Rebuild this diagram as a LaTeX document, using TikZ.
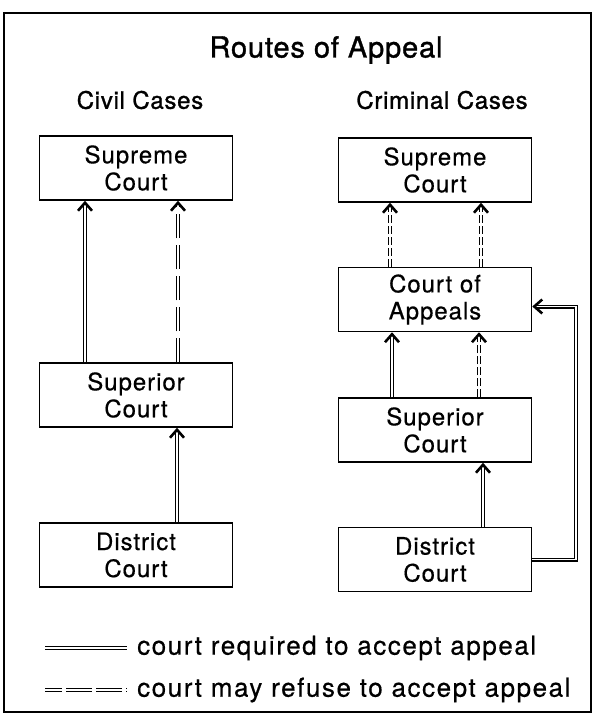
\documentclass[tikz,border=0pt]{standalone}
\usepackage{fontspec}
\setmainfont{TeX Gyre Heros}
\newfontfamily\courtfont{TeX Gyre Heros}[LetterSpace=4,FakeBold=0.5]
\newfontfamily\legendfont{TeX Gyre Heros}[LetterSpace=6,FakeBold=0.5]
\newfontfamily\headfont{TeX Gyre Heros}[LetterSpace=3,FakeBold=1.2]
\usetikzlibrary{arrows.meta,calc}
\begin{document}
\begin{tikzpicture}[x=1pt,y=-1pt,
  court/.style={draw,line width=1.5pt,minimum width=193pt,minimum height=64pt,
    align=center,inner sep=0pt,font=\courtfont\fontsize{24}{27}\selectfont},
  heading/.style={font=\headfont\fontsize{24}{27}\selectfont},
  pipe/.style={draw,line width=1.1pt,double,double distance=1.8pt},
  req/.style={pipe,-{Straight Barb[length=8pt,width=14pt,line width=2.6pt]}},
  mayA/.style={req,dash pattern=on 24pt off 7pt},
  mayB/.style={req,dash pattern=on 8pt off 3pt},
  legtext/.style={anchor=west,inner sep=0pt,font=\legendfont\fontsize{26}{28}\selectfont}]
\useasboundingbox (0,0) rectangle (596,715);
\draw[line width=1.5pt] (4,13) rectangle (591,712);

\node[font=\headfont\fontsize{29}{32}\selectfont] (title) at (326,50) {Routes of Appeal};
\node[heading] (civil) at (140,100) {Civil Cases};
\node[heading] (crim) at (442,100) {Criminal Cases};

% civil cases
\node[court] (vsc) at (136,168) {Supreme\\Court};
\node[court] (vsu) at (136,395) {Superior\\Court};
\node[court] (vdc) at (136,555) {District\\Court};
\draw[req] ([xshift=-51pt]vsu.north) -- ([xshift=-51pt]vsc.south);
\draw[mayA] ([xshift=42pt]vsu.north) -- ([xshift=42pt]vsc.south);
\draw[req] ([xshift=41pt]vdc.north) -- ([xshift=41pt]vsu.south);

% criminal cases
\node[court] (rsc) at (435,170) {Supreme\\Court};
\node[court] (rca) at (435,299.5) {Court of\\Appeals};
\node[court] (rsu) at (435,430) {Superior\\Court};
\node[court] (rdc) at (435,559.5) {District\\Court};
\draw[mayB] ([xshift=-45pt]rca.north) -- ([xshift=-45pt]rsc.south);
\draw[mayB] ([xshift=46pt]rca.north) -- ([xshift=46pt]rsc.south);
\draw[req] ([xshift=-43pt]rsu.north) -- ([xshift=-43pt]rca.south);
\draw[mayB] ([xshift=44pt]rsu.north) -- ([xshift=44pt]rca.south);
\draw[req] ([xshift=48pt]rdc.north) -- ([xshift=48pt]rsu.south);
\coordinate (bypass) at (576,0);
\draw[req] (rdc.east) -- (rdc.east -| bypass) |- ([yshift=-7pt]rca.east);

% legend
\coordinate (l1a) at (45,648);
\coordinate (l1b) at (127,648);
\coordinate (l2a) at (45,690);
\coordinate (l2b) at (127,690);
\draw[pipe] (l1a) -- (l1b);
\draw[pipe,dash pattern=on 17pt off 4pt on 26pt off 4pt on 26pt off 4pt on 8pt off 100pt] (l2a) -- (l2b);
\node[legtext] (t1) at (137,648) {court required to accept appeal};
\node[legtext] (t2) at (137,690) {court may refuse to accept appeal};
\end{tikzpicture}
\end{document}
